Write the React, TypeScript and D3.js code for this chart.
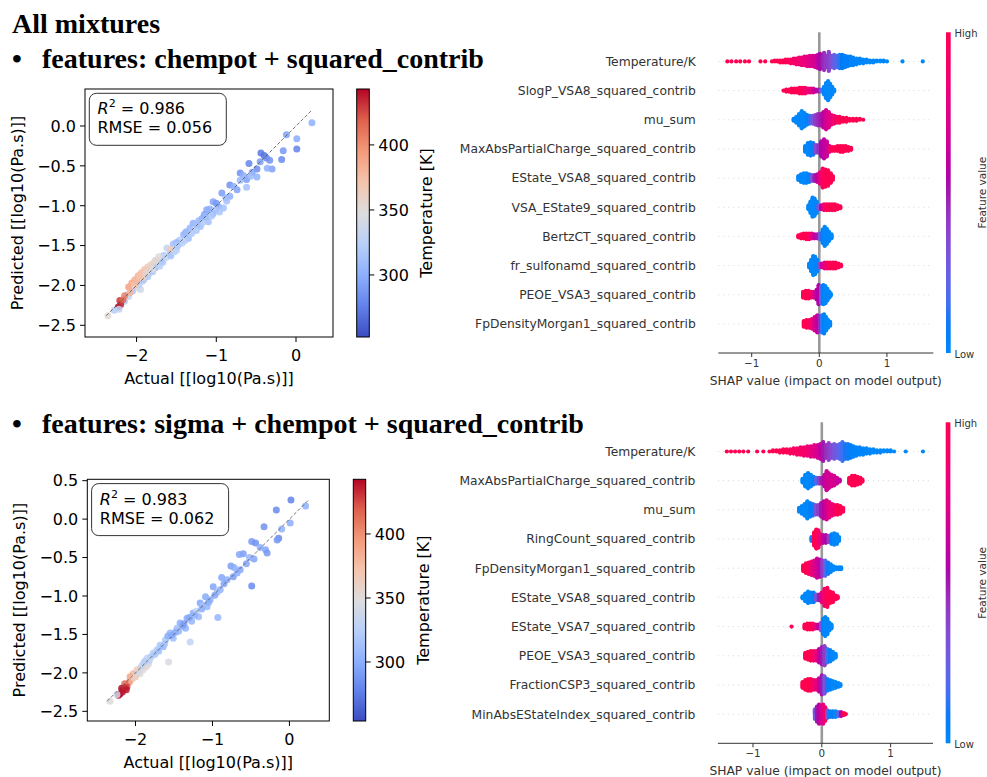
import React from 'react';
import * as d3 from 'd3';

// parity plots: [actual, predicted, temperature K]
const parityTop: [number, number, number][] = [
  [0.20, 0.04, 300], [-0.12, -0.11, 292], [0.01, -0.16, 298], [0.01, -0.29, 276], [-0.16, -0.31, 288],
  [-0.18, -0.42, 280], [-0.44, -0.34, 272], [-0.40, -0.37, 270], [-0.37, -0.40, 278], [-0.33, -0.43, 285],
  [-0.30, -0.54, 292], [-0.36, -0.53, 300], [-0.49, -0.54, 282], [-0.45, -0.45, 290], [-0.59, -0.47, 278],
  [-0.49, -0.64, 302], [-0.55, -0.58, 295], [-0.70, -0.59, 284], [-0.62, -0.67, 290], [-0.66, -0.62, 300],
  [-0.83, -0.74, 284], [-0.74, -0.80, 292], [-0.62, -0.77, 312], [-0.78, -0.76, 300], [-0.93, -0.84, 290],
  [-0.83, -0.88, 300], [-0.88, -0.90, 308], [-1.04, -0.95, 294], [-0.97, -1.01, 302], [-0.91, -1.03, 312],
  [-1.00, -0.97, 288], [-1.12, -1.05, 296], [-1.04, -1.10, 306], [-1.08, -1.04, 300], [-0.96, -1.08, 316],
  [-1.18, -1.16, 300], [-1.10, -1.20, 312], [-1.15, -1.11, 294], [-1.22, -1.19, 305], [-1.29, -1.22, 300],
  [-1.20, -1.26, 312], [-1.33, -1.28, 306], [-1.25, -1.31, 318], [-1.38, -1.33, 296], [-1.41, -1.36, 302],
  [-1.35, -1.41, 312], [-1.46, -1.43, 322], [-1.43, -1.47, 330], [-1.50, -1.46, 305], [-1.54, -1.48, 312],
  [-1.50, -1.56, 322], [-1.62, -1.53, 332], [-1.58, -1.60, 316], [-1.57, -1.55, 368], [-1.66, -1.62, 322],
  [-1.69, -1.69, 300], [-1.75, -1.68, 338], [-1.71, -1.76, 326], [-1.78, -1.72, 350], [-1.77, -1.78, 310],
  [-1.83, -1.81, 318], [-1.85, -1.86, 330], [-1.89, -1.89, 304], [-1.93, -1.95, 334], [-1.96, -1.93, 300],
  [-2.00, -2.03, 345], [-1.95, -2.05, 338], [-2.05, -2.07, 320], [-2.12, -2.12, 318],
  [-1.97, -1.99, 325], [-1.91, -1.93, 318], [-1.86, -1.89, 322], [-1.80, -1.83, 316], [-1.74, -1.74, 328],
  [-1.67, -1.71, 320], [-1.63, -1.65, 330], [-1.57, -1.63, 315], [-1.53, -1.58, 326], [-1.48, -1.50, 318],
  [-1.40, -1.44, 322], [-1.37, -1.33, 310], [-1.31, -1.35, 318], [-1.24, -1.24, 312], [-1.17, -1.21, 320],
  [-1.13, -1.14, 308], [-1.06, -1.13, 318], [-1.01, -1.05, 312], [-0.87, -0.94, 312], [-0.70, -0.68, 306],
  [-0.57, -0.63, 308], [-2.15, -2.20, 325], [-2.10, -2.14, 335],
  [-2.10, -2.02, 392], [-2.06, -1.97, 388], [-2.02, -1.93, 384], [-1.98, -1.88, 380], [-1.94, -1.84, 376],
  [-1.90, -1.80, 372], [-1.86, -1.77, 366], [-1.82, -1.74, 360], [-1.77, -1.69, 356], [-1.72, -1.64, 352],
  [-2.08, -2.09, 382], [-2.03, -2.00, 372], [-1.92, -1.90, 362], [-1.88, -1.84, 356], [-1.80, -1.80, 346],
  [-2.00, -1.95, 378], [-1.96, -1.90, 372],
  [-2.23, -2.27, 442], [-2.20, -2.24, 436], [-2.21, -2.19, 430], [-2.17, -2.18, 418], [-2.15, -2.13, 405],
  [-2.36, -2.38, 350], [-2.28, -2.31, 322], [-2.22, -2.30, 330],
];

const parityBottom: [number, number, number][] = [
  [0.02, 0.25, 278], [0.21, 0.17, 302], [-0.17, 0.12, 282], [0.01, -0.05, 300], [-0.33, -0.10, 285],
  [-0.10, -0.13, 302], [-0.14, -0.25, 280], [-0.16, -0.27, 290], [-0.49, -0.29, 290], [-0.44, -0.31, 286],
  [-0.31, -0.40, 296], [-0.29, -0.44, 290], [-0.38, -0.37, 300], [-0.60, -0.45, 292], [-0.65, -0.46, 296],
  [-0.46, -0.52, 295], [-0.52, -0.50, 305], [-0.76, -0.61, 292], [-0.72, -0.63, 300], [-0.64, -0.66, 296],
  [-0.88, -0.76, 296], [-0.81, -0.79, 300], [-0.73, -0.75, 292], [-0.49, -0.87, 282], [-0.99, -0.88, 296],
  [-0.90, -0.92, 302], [-0.94, -0.95, 310], [-1.09, -1.01, 298], [-1.03, -1.05, 304], [-1.16, -1.09, 296],
  [-1.07, -1.14, 306], [-1.12, -1.12, 312], [-0.93, -1.28, 305], [-1.25, -1.22, 300], [-1.18, -1.27, 308],
  [-1.33, -1.29, 298], [-1.27, -1.33, 306], [-1.21, -1.20, 330], [-1.42, -1.35, 300], [-1.35, -1.42, 304],
  [-1.46, -1.42, 312], [-1.39, -1.39, 296], [-1.55, -1.48, 306], [-1.51, -1.55, 312], [-1.61, -1.57, 320],
  [-1.58, -1.52, 300], [-1.29, -1.60, 330], [-1.68, -1.64, 316], [-1.72, -1.70, 322], [-1.77, -1.74, 326],
  [-1.64, -1.66, 305], [-1.57, -1.86, 345], [-1.85, -1.81, 330], [-1.90, -1.88, 336], [-1.83, -1.88, 340],
  [-1.80, -1.79, 320], [-1.94, -1.95, 345], [-1.90, -1.96, 350], [-1.94, -2.01, 352], [-1.98, -1.96, 365],
  [-2.03, -2.01, 378], [-2.07, -2.05, 390], [-2.00, -2.05, 370], [-1.86, -1.92, 355],
  [-1.97, -2.00, 340], [-1.92, -1.91, 332], [-1.88, -1.85, 322], [-1.82, -1.84, 330], [-1.75, -1.76, 318],
  [-1.70, -1.72, 312], [-1.62, -1.62, 316], [-1.53, -1.51, 298], [-1.48, -1.47, 296], [-1.44, -1.46, 306],
  [-1.37, -1.36, 292], [-1.30, -1.28, 296], [-1.23, -1.25, 302], [-1.14, -1.17, 300], [-1.05, -1.08, 298],
  [-0.97, -0.99, 296], [-0.85, -0.84, 294], [-0.68, -0.70, 300], [-0.56, -0.58, 296],
  [-2.08, -2.12, 400], [-2.05, -2.08, 385], [-2.02, -2.06, 360],
  [-2.11, -2.18, 425], [-2.14, -2.14, 415], [-2.16, -2.22, 436], [-2.18, -2.20, 440], [-2.20, -2.27, 442],
  [-2.17, -2.25, 438], [-2.13, -2.19, 430], [-2.12, -2.22, 438], [-2.22, -2.29, 442],
  [-2.33, -2.37, 350], [-2.24, -2.28, 340],
];

const statsTop = ['0.986', '0.056'];
const statsBottom = ['0.983', '0.062'];

const parityTicksX = [-2, -1, 0];
const parityTicksYTop = [-2.5, -2, -1.5, -1, -0.5, 0];
const parityTicksYBottom = [-2.5, -2, -1.5, -1, -0.5, 0, 0.5];
const tempTicks = [300, 350, 400];
const shapTicks = [-1, 0, 1];

const featuresTop = [
  'Temperature/K', 'SlogP_VSA8_squared_contrib', 'mu_sum', 'MaxAbsPartialCharge_squared_contrib',
  'EState_VSA8_squared_contrib', 'VSA_EState9_squared_contrib', 'BertzCT_squared_contrib',
  'fr_sulfonamd_squared_contrib', 'PEOE_VSA3_squared_contrib', 'FpDensityMorgan1_squared_contrib',
];
const featuresBottom = [
  'Temperature/K', 'MaxAbsPartialCharge_squared_contrib', 'mu_sum', 'RingCount_squared_contrib',
  'FpDensityMorgan1_squared_contrib', 'EState_VSA8_squared_contrib', 'EState_VSA7_squared_contrib',
  'PEOE_VSA3_squared_contrib', 'FractionCSP3_squared_contrib', 'MinAbsEStateIndex_squared_contrib',
];

// beeswarm bins: [shap value, dots stacked, feature value 0..1]
type Bin = [number, number, number];
const swarmTop: Bin[][] = [
  // Temperature/K
  [[-1.36, 1, 1], [-1.30, 1, 1], [-1.23, 1, 1], [-1.17, 1, 1], [-1.10, 1, 1], [-1.04, 1, 1], [-0.87, 1, 1], [-0.80, 1, 1],
   [-0.70, 1, 1], [-0.66, 2, 1], [-0.62, 2, 1], [-0.58, 3, 1], [-0.54, 3, 1], [-0.50, 4, 1], [-0.46, 4, 0.95], [-0.42, 5, 0.95],
   [-0.38, 6, 0.9], [-0.34, 7, 0.9], [-0.30, 8, 0.85], [-0.26, 9, 0.85], [-0.22, 10, 0.8], [-0.18, 11, 0.78], [-0.14, 12, 0.75],
   [-0.10, 12, 0.72], [-0.06, 13, 0.68], [-0.02, 15, 0.6], [0.01, 17, 0.55], [0.04, 11, 0.5], [0.07, 19, 0.45], [0.10, 13, 0.42],
   [0.14, 21, 0.38], [0.18, 13, 0.32], [0.22, 15, 0.25], [0.26, 13, 0.18], [0.30, 15, 0.12], [0.34, 15, 0.08], [0.38, 13, 0.06],
   [0.42, 11, 0.05], [0.46, 10, 0.04], [0.50, 9, 0.03], [0.55, 7, 0.02], [0.60, 6, 0.02], [0.65, 5, 0.01], [0.70, 4, 0],
   [0.75, 3, 0], [0.80, 3, 0], [0.85, 2, 0], [0.90, 2, 0], [0.95, 2, 0], [1.00, 1, 0], [1.23, 1, 0], [1.53, 1, 0]],
  // SlogP_VSA8
  [[-0.53, 1, 1], [-0.49, 3, 1], [-0.45, 3, 1], [-0.41, 5, 1], [-0.37, 5, 1], [-0.33, 5, 1], [-0.29, 7, 1], [-0.25, 7, 0.95],
   [-0.21, 7, 0.9], [-0.17, 5, 0.85], [-0.13, 5, 0.8], [-0.09, 5, 0.7], [-0.05, 3, 0.6], [-0.01, 3, 0.5], [0.03, 3, 0.2],
   [0.07, 9, 0.02], [0.10, 17, 0], [0.13, 21, 0], [0.16, 15, 0], [0.19, 9, 0], [0.22, 3, 0]],
  // mu_sum
  [[-0.38, 3, 0.05], [-0.34, 7, 0], [-0.30, 13, 0], [-0.26, 19, 0], [-0.22, 15, 0.02], [-0.18, 11, 0.05], [-0.14, 9, 0.12],
   [-0.10, 9, 0.3], [-0.06, 11, 0.4], [-0.02, 13, 0.45], [0.02, 13, 0.5], [0.06, 17, 0.6], [0.10, 21, 0.68], [0.14, 17, 0.75],
   [0.18, 11, 0.8], [0.22, 9, 0.88], [0.26, 7, 0.92], [0.30, 7, 1], [0.35, 5, 1], [0.40, 5, 1], [0.45, 3, 1], [0.50, 3, 1],
   [0.55, 3, 1], [0.60, 2, 1], [0.65, 1, 1]],
  // MaxAbsPartialCharge
  [[-0.21, 7, 0.05], [-0.17, 13, 0], [-0.13, 15, 0.03], [-0.09, 13, 0.1], [-0.05, 9, 0.35], [-0.01, 9, 0.45], [0.03, 17, 0.55],
   [0.07, 21, 0.6], [0.11, 17, 0.65], [0.15, 7, 0.8], [0.19, 5, 1], [0.23, 5, 1], [0.27, 6, 1], [0.31, 7, 1], [0.35, 7, 1],
   [0.39, 6, 1], [0.43, 5, 1], [0.47, 3, 1]],
  // EState_VSA8
  [[-0.31, 5, 0], [-0.27, 9, 0], [-0.23, 11, 0], [-0.19, 11, 0], [-0.15, 9, 0.05], [-0.11, 7, 0.3], [-0.07, 7, 0.5],
   [-0.03, 9, 0.6], [0.01, 13, 0.8], [0.05, 21, 0.95], [0.09, 19, 1], [0.13, 17, 1], [0.17, 11, 1], [0.20, 5, 1]],
  // VSA_EState9
  [[-0.16, 5, 0], [-0.13, 13, 0], [-0.10, 21, 0], [-0.07, 19, 0], [-0.04, 13, 0.02], [-0.01, 5, 0.3], [0.03, 5, 0.6],
   [0.07, 7, 0.85], [0.11, 7, 1], [0.15, 7, 1], [0.19, 7, 1], [0.23, 7, 1], [0.27, 5, 1], [0.31, 3, 1]],
  // BertzCT
  [[-0.31, 3, 1], [-0.27, 5, 1], [-0.23, 6, 1], [-0.19, 7, 1], [-0.15, 7, 0.95], [-0.11, 6, 0.8], [-0.07, 5, 0.6],
   [-0.03, 5, 0.5], [0.01, 7, 0.3], [0.05, 15, 0.05], [0.08, 21, 0], [0.11, 17, 0], [0.14, 11, 0], [0.18, 5, 0]],
  // fr_sulfonamd
  [[-0.15, 5, 0], [-0.12, 13, 0], [-0.09, 21, 0], [-0.06, 19, 0], [-0.03, 13, 0.02], [0.00, 5, 0.35], [0.04, 5, 0.65],
   [0.08, 7, 0.8], [0.12, 7, 0.9], [0.16, 7, 1], [0.20, 7, 1], [0.24, 7, 1], [0.28, 5, 1], [0.32, 3, 1]],
  // PEOE_VSA3
  [[-0.24, 7, 1], [-0.20, 9, 1], [-0.16, 9, 1], [-0.12, 7, 0.9], [-0.08, 7, 0.75], [-0.04, 11, 0.6], [-0.01, 21, 0.55],
   [0.03, 19, 0.2], [0.06, 21, 0.05], [0.09, 19, 0], [0.12, 13, 0], [0.15, 7, 0], [0.17, 3, 0]],
  // FpDensityMorgan1
  [[-0.23, 7, 1], [-0.19, 9, 1], [-0.15, 9, 0.95], [-0.11, 11, 0.85], [-0.07, 15, 0.7], [-0.03, 19, 0.6], [0.01, 17, 0.45],
   [0.04, 19, 0.15], [0.07, 21, 0.05], [0.10, 15, 0], [0.13, 9, 0], [0.16, 5, 0]],
];

const swarmBottom: Bin[][] = [
  // Temperature/K
  [[-1.38, 1, 1], [-1.32, 1, 1], [-1.26, 1, 1], [-1.20, 1, 1], [-1.14, 1, 1], [-1.07, 1, 1], [-0.94, 1, 1], [-0.85, 1, 1],
   [-0.76, 1, 1], [-0.71, 2, 1], [-0.66, 2, 1], [-0.61, 3, 1], [-0.56, 4, 1], [-0.51, 4, 1], [-0.46, 5, 0.95], [-0.41, 6, 0.95],
   [-0.36, 7, 0.92], [-0.31, 8, 0.9], [-0.26, 9, 0.9], [-0.21, 10, 0.85], [-0.16, 11, 0.8], [-0.11, 12, 0.75], [-0.06, 13, 0.7],
   [-0.02, 15, 0.6], [0.02, 19, 0.5], [0.06, 13, 0.45], [0.10, 17, 0.4], [0.14, 13, 0.35], [0.18, 15, 0.3], [0.22, 13, 0.25],
   [0.26, 15, 0.2], [0.30, 19, 0.15], [0.34, 15, 0.1], [0.38, 15, 0.1], [0.42, 13, 0.05], [0.46, 11, 0.04], [0.50, 9, 0.03],
   [0.55, 8, 0.02], [0.60, 7, 0.02], [0.65, 6, 0.01], [0.70, 5, 0], [0.75, 4, 0], [0.80, 3, 0], [0.85, 3, 0], [0.90, 2, 0],
   [0.95, 2, 0], [1.00, 2, 0], [1.05, 1, 0], [1.22, 1, 0], [1.47, 1, 0]],
  // MaxAbsPartialCharge
  [[-0.28, 5, 0], [-0.24, 13, 0], [-0.20, 17, 0], [-0.16, 13, 0], [-0.12, 9, 0.05], [-0.08, 7, 0.2], [-0.04, 7, 0.4],
   [0.00, 7, 0.5], [0.04, 13, 0.6], [0.07, 21, 0.65], [0.10, 17, 0.7], [0.14, 13, 0.7], [0.18, 11, 0.7], [0.22, 7, 0.65],
   [0.26, 3, 0.6], [0.40, 7, 1], [0.44, 11, 1], [0.48, 11, 1], [0.52, 9, 1], [0.56, 7, 1], [0.59, 3, 1]],
  // mu_sum
  [[-0.33, 5, 0], [-0.29, 9, 0], [-0.25, 13, 0], [-0.21, 19, 0], [-0.17, 15, 0.05], [-0.13, 13, 0.1], [-0.09, 11, 0.3],
   [-0.05, 11, 0.4], [-0.01, 15, 0.5], [0.03, 19, 0.6], [0.07, 21, 0.7], [0.11, 17, 0.8], [0.15, 13, 0.85], [0.19, 11, 0.9],
   [0.23, 11, 1], [0.27, 9, 1], [0.31, 5, 1]],
  // RingCount
  [[-0.15, 5, 0.1], [-0.11, 15, 1], [-0.08, 21, 1], [-0.05, 19, 0.95], [-0.02, 11, 0.8], [0.02, 9, 0.6], [0.06, 9, 0.55],
   [0.10, 7, 0.4], [0.14, 11, 0.05], [0.18, 13, 0], [0.22, 11, 0], [0.25, 5, 0]],
  // FpDensityMorgan1
  [[-0.27, 7, 1], [-0.23, 11, 1], [-0.19, 13, 0.95], [-0.15, 15, 0.85], [-0.11, 17, 0.75], [-0.07, 21, 0.65], [-0.03, 19, 0.6],
   [0.01, 17, 0.4], [0.05, 17, 0.2], [0.09, 13, 0.1], [0.13, 9, 0], [0.17, 5, 0], [0.21, 3, 0], [0.25, 3, 0], [0.28, 3, 0]],
  // EState_VSA8
  [[-0.28, 3, 0], [-0.24, 9, 0], [-0.20, 13, 0], [-0.16, 11, 0], [-0.12, 11, 0.05], [-0.08, 7, 0.3], [-0.04, 7, 0.5],
   [0.00, 11, 0.75], [0.04, 19, 0.9], [0.08, 21, 1], [0.12, 13, 1], [0.16, 11, 1], [0.20, 5, 1], [0.23, 3, 1]],
  // EState_VSA7
  [[-0.44, 1, 1], [-0.25, 5, 1], [-0.21, 7, 1], [-0.17, 7, 1], [-0.13, 7, 0.95], [-0.09, 5, 0.8], [-0.05, 5, 0.6],
   [-0.01, 9, 0.3], [0.02, 17, 0.05], [0.05, 21, 0], [0.08, 17, 0], [0.11, 9, 0], [0.14, 5, 0]],
  // PEOE_VSA3
  [[-0.24, 7, 1], [-0.20, 9, 1], [-0.16, 11, 1], [-0.12, 11, 0.95], [-0.08, 11, 0.8], [-0.04, 15, 0.6], [0.00, 19, 0.5],
   [0.04, 21, 0.4], [0.08, 15, 0.15], [0.12, 13, 0.05], [0.16, 9, 0], [0.20, 5, 0]],
  // FractionCSP3
  [[-0.28, 7, 1], [-0.24, 11, 1], [-0.20, 13, 1], [-0.16, 13, 1], [-0.12, 11, 0.9], [-0.08, 11, 0.8], [-0.04, 15, 0.6],
   [0.00, 21, 0.5], [0.04, 19, 0.3], [0.08, 13, 0.1], [0.12, 11, 0.05], [0.16, 9, 0], [0.20, 7, 0], [0.24, 5, 0], [0.27, 3, 0]],
  // MinAbsEStateIndex
  [[-0.10, 11, 0.3], [-0.07, 17, 0.5], [-0.04, 21, 0.6], [-0.01, 19, 0.7], [0.02, 21, 0.8], [0.05, 15, 0.9], [0.08, 9, 0.3],
   [0.12, 7, 0.05], [0.16, 7, 0.05], [0.20, 7, 0], [0.24, 5, 0.2], [0.28, 5, 0.6], [0.32, 3, 1], [0.35, 1, 1]],
];

const coolStops = [0, 0.125, 0.25, 0.375, 0.5, 0.625, 0.75, 0.875, 1];
const coolColors = ['#3b4cc0', '#6282ea', '#8db0fe', '#b8d0f9', '#dddddd', '#f5c4ad', '#f49a7b', '#de604d', '#b40426'];
const coolwarm = d3.scaleLinear<string>().domain(coolStops).range(coolColors).interpolate(d3.interpolateRgb);

// shap red_blue: LCH sweep blue -> purple -> red with a darker middle
const shapColor = (f: number) => {
  const h = (4.6588 + f * (0.35470565 + 2 * Math.PI - 4.6588)) * 180 / Math.PI;
  const c = 70 + f * 20;
  const l = f < 0.5 ? 54 - (54 - 40) * f * 2 : 40 + (54 - 40) * (f - 0.5) * 2;
  return d3.hcl(h, c, l).formatHex();
};

const SANS = 'DejaVu Sans, sans-serif';
const SERIF = 'Liberation Serif, Times New Roman, serif';
const fmt = (v: number) => (v < 0 ? '\u2212' : '') + Math.abs(v).toString();
const fmt1 = (v: number) => (v < 0 ? '\u2212' : '') + Math.abs(v).toFixed(1);

function Parity({ pts, stats, ticksY, box, domain, cb, cbDomain, gid }: any) {
  const [x0, y0, x1, y1] = box;
  const x = d3.scaleLinear().domain(domain).range([x0, x1]);
  const y = d3.scaleLinear().domain(domain).range([y1, y0]);
  const t = d3.scaleLinear().domain(cbDomain).range([0, 1]);
  const cy = d3.scaleLinear().domain(cbDomain).range([cb[3], cb[1]]);
  const all = (pts as number[][]).flatMap((p) => [p[0], p[1]]);
  const lo = d3.min(all)!, hi = d3.max(all)!;
  return (
    <g fontFamily={SANS}>
      <defs>
        <linearGradient id={gid} x1="0" y1="1" x2="0" y2="0">
          {coolStops.map((s, i) => <stop key={i} offset={s} stopColor={coolColors[i]} />)}
        </linearGradient>
      </defs>
      {(pts as number[][]).map((p, i) => (
        <circle key={i} cx={x(p[0])} cy={y(p[1])} r={3.5} fill={coolwarm(t(p[2]))} fillOpacity={0.85} />
      ))}
      <line x1={x(lo)} y1={y(lo)} x2={x(hi)} y2={y(hi)} stroke="#555" strokeWidth={1} strokeDasharray="3.5,2" opacity={0.8} />
      <rect x={x0} y={y0} width={x1 - x0} height={y1 - y0} fill="none" stroke="#000" strokeWidth={1} />
      {parityTicksX.map((v) => (
        <g key={v}>
          <line x1={x(v)} x2={x(v)} y1={y1} y2={y1 + 5} stroke="#000" />
          <text x={x(v)} y={y1 + 24} fontSize={16} textAnchor="middle">{fmt(v)}</text>
        </g>
      ))}
      {(ticksY as number[]).map((v) => (
        <g key={v}>
          <line x1={x0 - 5} x2={x0} y1={y(v)} y2={y(v)} stroke="#000" />
          <text x={x0 - 9} y={y(v) + 5.8} fontSize={16} textAnchor="end">{fmt1(v)}</text>
        </g>
      ))}
      <text x={(x0 + x1) / 2} y={y1 + 47} fontSize={16} textAnchor="middle">Actual [[log10(Pa.s)]]</text>
      <text transform={`translate(${x0 - 62},${(y0 + y1) / 2}) rotate(-90)`} fontSize={16} textAnchor="middle">
        Predicted [[log10(Pa.s)]]
      </text>
      <rect x={x0 + 4.3} y={y0 + 4.3} width={137} height={52} rx={7} fill="#fff" stroke="#333" strokeWidth={1} />
      <text x={x0 + 12.5} y={y0 + 25.3} fontSize={16}>
        <tspan fontStyle="italic">R</tspan>
        <tspan fontSize={11} dy={-7}>2</tspan>
        <tspan dy={7}>{` = ${stats[0]}`}</tspan>
      </text>
      <text x={x0 + 12.5} y={y0 + 44.3} fontSize={16}>{`RMSE = ${stats[1]}`}</text>
      <rect x={cb[0]} y={cb[1]} width={cb[2] - cb[0]} height={cb[3] - cb[1]} fill={`url(#${gid})`} stroke="#000" strokeWidth={1} />
      {tempTicks.map((v) => (
        <g key={v}>
          <line x1={cb[2]} x2={cb[2] + 5} y1={cy(v)} y2={cy(v)} stroke="#000" />
          <text x={cb[2] + 9} y={cy(v) + 5.8} fontSize={16}>{v}</text>
        </g>
      ))}
      <text transform={`translate(${cb[2] + 63},${(cb[1] + cb[3]) / 2}) rotate(-90)`} fontSize={16} textAnchor="middle">
        Temperature [K]
      </text>
    </g>
  );
}

function Swarm({ features, rows, xDomain, xRange, yTop, yBottom, gid }: any) {
  const x = d3.scaleLinear().domain(xDomain).range(xRange);
  const n = features.length;
  const y = d3.scaleLinear().domain([-1, n]).range([yBottom, yTop]);
  const rowPx = y(0) - y(1);
  const dots: { k: string; cx: number; cy: number; fill: string }[] = [];
  (rows as Bin[][]).forEach((bins, i) => {
    const pos = n - 1 - i;
    const maxHalf = d3.max(bins, (b) => Math.floor(b[1] / 2))!;
    const step = (0.36 * rowPx) / (maxHalf + 1);
    bins.forEach(([v, cnt, f], j) => {
      for (let k = 0; k < cnt; k++) {
        const layer = Math.ceil(k / 2) * (k % 2 ? -1 : 1);
        dots.push({ k: `${i}-${j}-${k}`, cx: x(v), cy: y(pos) + layer * step, fill: shapColor(f) });
      }
    });
  });
  const cbX = xRange[1] + 12.7;
  const gStops = d3.range(0, 1.001, 0.05);
  return (
    <g fontFamily={SANS}>
      <defs>
        <linearGradient id={gid} x1="0" y1="1" x2="0" y2="0">
          {gStops.map((s, i) => <stop key={i} offset={s} stopColor={shapColor(s)} />)}
        </linearGradient>
      </defs>
      {(features as string[]).map((f, i) => (
        <g key={f}>
          <line x1={xRange[0]} x2={xRange[1]} y1={y(n - 1 - i)} y2={y(n - 1 - i)} stroke="#ccc" strokeWidth={0.8} strokeDasharray="1,4" />
          <text x={xRange[0] - 22.5} y={y(n - 1 - i) + 4.4} fontSize={12.3} fill="#333" textAnchor="end">{f}</text>
        </g>
      ))}
      <line x1={x(0)} x2={x(0)} y1={yTop} y2={yBottom} stroke="#999" strokeWidth={2.6} />
      {dots.map((d) => <circle key={d.k} cx={d.cx} cy={d.cy} r={2.1} fill={d.fill} />)}
      <line x1={xRange[0]} x2={xRange[1]} y1={yBottom} y2={yBottom} stroke="#333" strokeWidth={1} />
      {shapTicks.map((v) => (
        <g key={v}>
          <line x1={x(v)} x2={x(v)} y1={yBottom} y2={yBottom + 4} stroke="#333" />
          <text x={x(v)} y={yBottom + 14} fontSize={10.3} fill="#333" textAnchor="middle">{fmt(v)}</text>
        </g>
      ))}
      <text x={(xRange[0] + xRange[1]) / 2} y={yBottom + 31.5} fontSize={12.3} fill="#333" textAnchor="middle">
        SHAP value (impact on model output)
      </text>
      <rect x={cbX} y={yTop} width={4.7} height={yBottom - yTop} fill={`url(#${gid})`} />
      <text x={cbX + 8.5} y={yTop + 4.5} fontSize={10} fill="#333">High</text>
      <text x={cbX + 8.5} y={yBottom + 4.5} fontSize={10} fill="#333">Low</text>
      <text transform={`translate(${cbX + 40},${(yTop + yBottom) / 2}) rotate(-90)`} fontSize={10.5} fill="#333" textAnchor="middle">
        Feature value
      </text>
    </g>
  );
}

export default function App() {
  return (
    <svg width={987} height={777} style={{ position: 'absolute', left: 0, top: 0, background: '#fff' }}>
      <rect width={987} height={777} fill="#fff" />
      <g fontFamily={SERIF} fontWeight="bold" fontSize={28}>
        <text x={12} y={33}>All mixtures</text>
        <text x={12} y={68}>•</text>
        <text x={42} y={68}>features: chempot + squared_contrib</text>
        <text x={12} y={433}>•</text>
        <text x={42} y={433}>features: sigma + chempot + squared_contrib</text>
      </g>
      <Parity pts={parityTop} stats={statsTop} ticksY={parityTicksYTop} box={[85, 89, 333, 337]}
        domain={[-2.647, 0.464]} cb={[356.7, 89, 369.3, 337]} cbDomain={[252.3, 443]} gid="cwTop" />
      <Parity pts={parityBottom} stats={statsBottom} ticksY={parityTicksYBottom} box={[87.3, 479.3, 329.3, 721]}
        domain={[-2.626, 0.518]} cb={[353.3, 479.3, 365.7, 721]} cbDomain={[253.9, 442.7]} gid="cwBottom" />
      <Swarm features={featuresTop} rows={swarmTop} xDomain={[-1.494, 1.686]} xRange={[718.3, 933.3]}
        yTop={32.3} yBottom={353} gid="rbTop" />
      <Swarm features={featuresBottom} rows={swarmBottom} xDomain={[-1.51, 1.616]} xRange={[717.9, 933]}
        yTop={422.3} yBottom={743.3} gid="rbBottom" />
    </svg>
  );
}
